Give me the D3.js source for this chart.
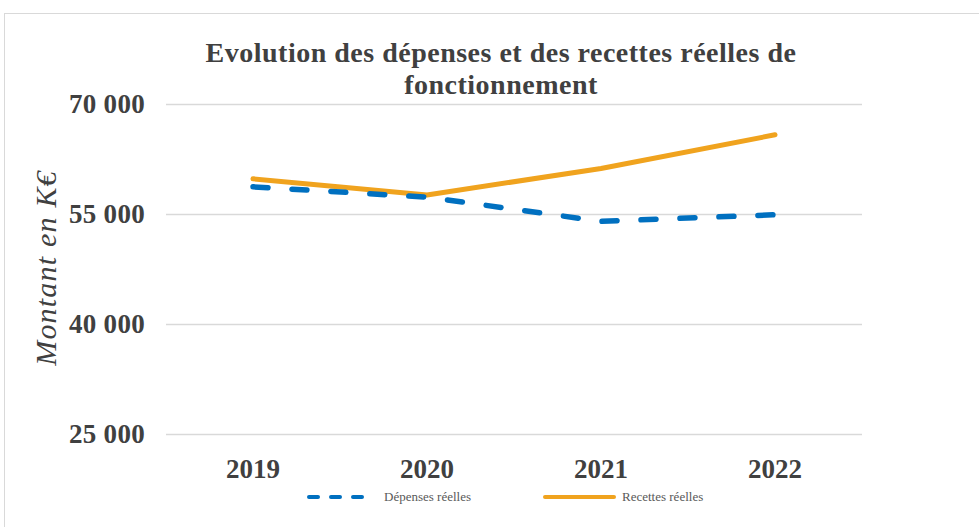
<!DOCTYPE html>
<html><head><meta charset="utf-8">
<script src="https://cdn.jsdelivr.net/npm/d3@7/dist/d3.min.js"></script>
<style>body{margin:0;background:#fff}svg{display:block}</style>
</head><body><svg id="c" width="979" height="527"></svg>
<script>
const years = ["2019", "2020", "2021", "2022"];
const depenses = [58700, 57300, 54000, 54900];
const recettes = [59800, 57600, 61200, 65800];
const yTicks = [25000, 40000, 55000, 70000];
const seriesNames = ["Dépenses réelles", "Recettes réelles"];
const titleLines = ["Evolution des dépenses et des recettes réelles de", "fonctionnement"];
const yTitle = "Montant en K€";

const svg = d3.select("#c");
const serif = "'Liberation Serif','Times New Roman',serif";
const txt = "#404040";

svg.append("rect").attr("x", 4.5).attr("y", 13.5).attr("width", 1000).attr("height", 600)
  .attr("fill", "#fff").attr("stroke", "#d9d9d9").attr("stroke-width", 1);

const x = d3.scaleBand().domain(years).range([166, 862]);
const y = d3.scaleLinear().domain([25000, 70000]).range([434, 104]);

const fmt = v => d3.format(",")(v).replace(/,/g, " ");

const gy = svg.append("g").attr("transform", "translate(166,0)")
  .call(d3.axisLeft(y).tickValues(yTicks).tickSize(-(862 - 166)).tickFormat(fmt).tickPadding(21));
gy.select(".domain").remove();
gy.selectAll(".tick line").attr("stroke", "#d9d9d9").attr("stroke-width", 1.5);
gy.selectAll(".tick text").attr("font-family", serif).attr("font-size", 27).attr("font-weight", "bold")
  .attr("letter-spacing", 0.3).attr("fill", txt);

const gx = svg.append("g").attr("transform", "translate(0,434)")
  .call(d3.axisBottom(x).tickSize(0).tickPadding(0));
gx.select(".domain").remove();
gx.selectAll(".tick text").attr("font-family", serif).attr("font-size", 27).attr("font-weight", "bold")
  .attr("fill", txt).attr("dy", null).attr("y", 44);

const line = d3.line().x((d, i) => x(years[i]) + x.bandwidth() / 2).y(d => y(d));

svg.append("path").datum(recettes).attr("d", line).attr("fill", "none")
  .attr("stroke", "#F0A31E").attr("stroke-width", 5).attr("stroke-linecap", "round").attr("stroke-linejoin", "round");
svg.append("path").datum(depenses).attr("d", line).attr("fill", "none")
  .attr("stroke", "#0070C0").attr("stroke-width", 5.5).attr("stroke-linecap", "round")
  .attr("stroke-dasharray", "15,24");

svg.append("g").selectAll("text").data(titleLines).join("text")
  .attr("x", 501).attr("y", (d, i) => 62 + i * 32).attr("text-anchor", "middle")
  .attr("font-family", serif).attr("font-size", 28).attr("font-weight", "bold").attr("fill", txt)
  .attr("letter-spacing", 0.5)
  .text(d => d);

svg.append("text").attr("transform", "translate(56,268) rotate(-90)").attr("text-anchor", "middle")
  .attr("font-family", serif).attr("font-size", 30).attr("font-style", "italic").attr("fill", txt)
  .attr("letter-spacing", 1.2)
  .text(yTitle);

const leg = [{x0: 309, x1: 364, tx: 384, color: "#0070C0", dash: "9,13"}, {x0: 545, x1: 614, tx: 622, color: "#F0A31E", dash: null}];
leg.forEach((l, i) => {
  const ln = svg.append("line").attr("x1", l.x0).attr("x2", l.x1).attr("y1", 497).attr("y2", 497)
    .attr("stroke", l.color).attr("stroke-width", 4).attr("stroke-linecap", "round");
  if (l.dash) ln.attr("stroke-dasharray", l.dash);
  svg.append("text").attr("x", l.tx).attr("y", 501).attr("font-family", serif).attr("font-size", 13)
    .attr("fill", "#595959").text(seriesNames[i]);
});
</script></body></html>
